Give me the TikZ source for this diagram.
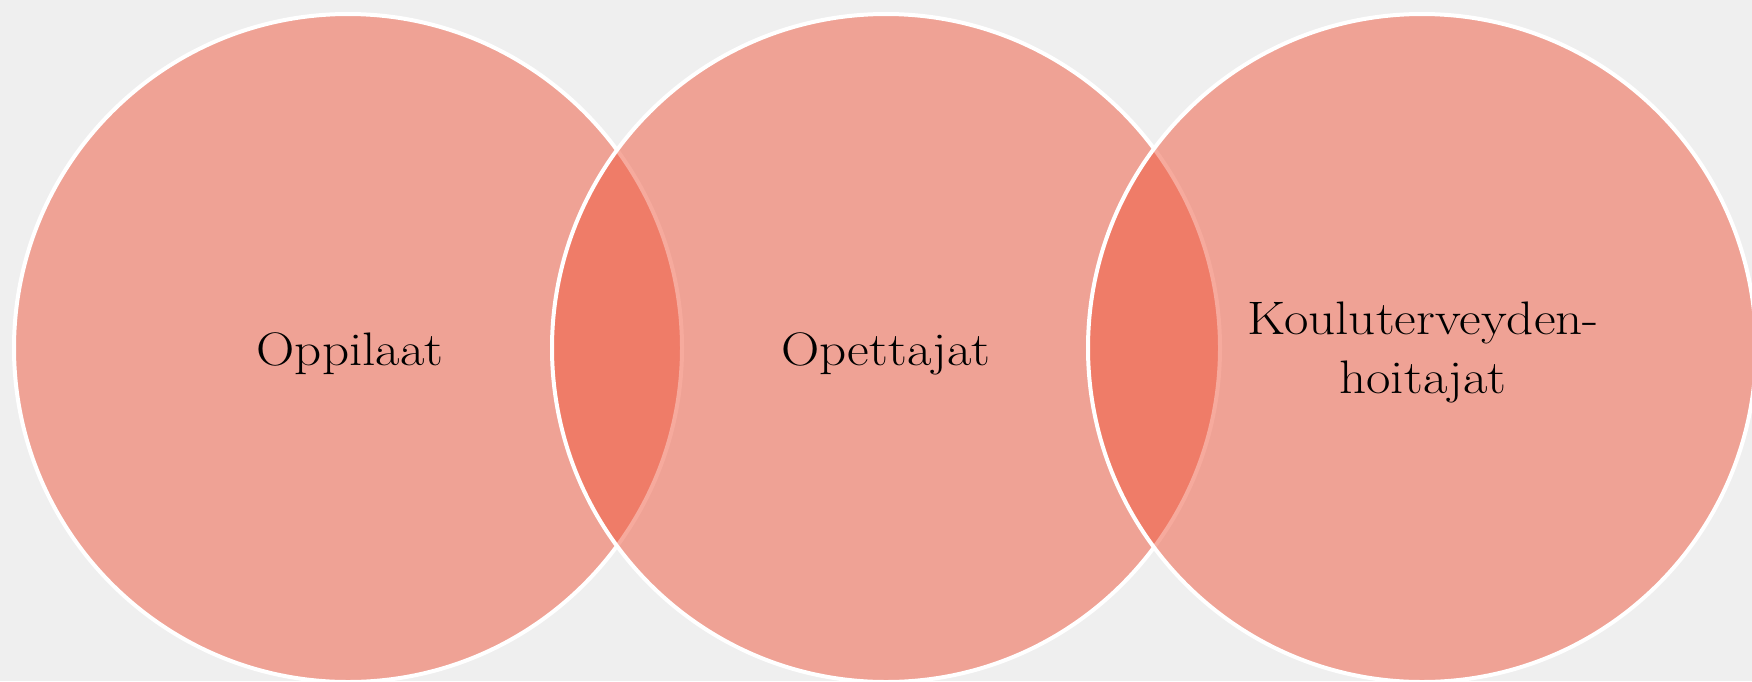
\documentclass[tikz,border=0pt]{standalone}
\usepackage{fontspec}
\newfontfamily\labfont[FakeStretch=1.13]{Latin Modern Roman}
\definecolor{bgc}{RGB}{239,239,239}
\definecolor{circc}{RGB}{239,87,61}
\begin{document}
\begin{tikzpicture}[x=1pt,y=-1pt,
  circ/.style={circle, draw=white, line width=4pt, fill=circc, fill opacity=0.5, draw opacity=1, minimum size=668pt, inner sep=0pt},
  lab/.style={font=\labfont\fontsize{47}{58.5}\selectfont, text=black, align=center, inner sep=0pt}]
\fill[bgc] (0,0) rectangle (1752,681);
\useasboundingbox (0,0) rectangle (1752,681);
\begin{scope}
\clip (0,0) rectangle (1752,681);
\node[circ] (c1) at (348,348) {};
\node[circ] (c2) at (886,348) {};
\node[circ] (c3) at (1422,348) {};
\end{scope}
\node[lab, anchor=base] (t1) at (350,365) {Oppilaat};
\node[lab, anchor=base] (t2) at (886,365) {Opettajat};
\node[lab, anchor=base] (t3) at (1423,393) {Kouluterveyden-\\hoitajat};
\end{tikzpicture}
\end{document}
